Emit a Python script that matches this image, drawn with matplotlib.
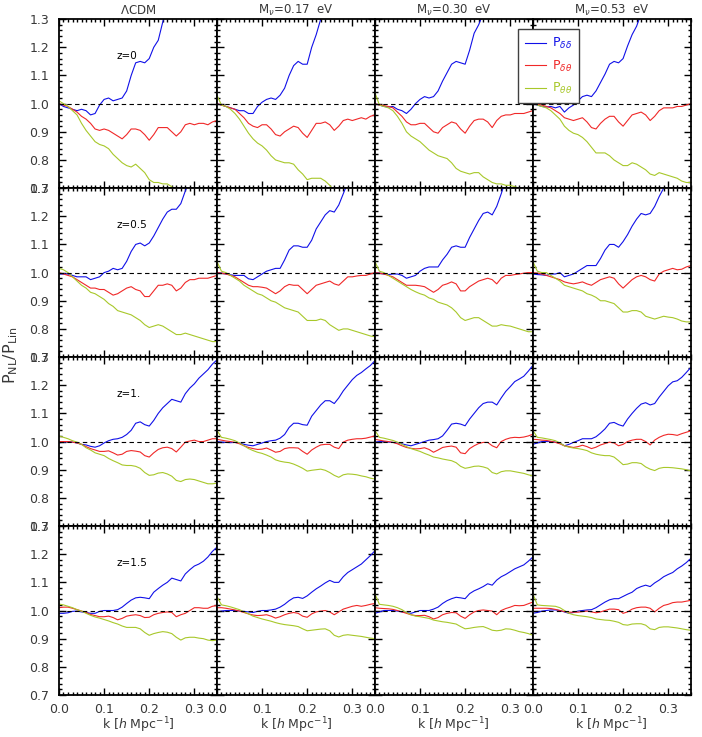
import numpy as np
import matplotlib
matplotlib.use('Agg')
import matplotlib.pyplot as plt
from matplotlib.ticker import MultipleLocator, FormatStrFormatter
from matplotlib.lines import Line2D

plt.rcParams['font.family'] = ['DejaVu Sans']

# k grid, step 0.01 h/Mpc
k = np.arange(36) * 0.01

columns = [r'$\Lambda$CDM', r'M$_\nu$=0.17  eV', r'M$_\nu$=0.30  eV', r'M$_\nu$=0.53  eV']
redshifts = ['z=0', 'z=0.5', 'z=1.', 'z=1.5']

# P_dd / P_lin, one list per column (LCDM, 0.17, 0.30, 0.53)
dd_z0 = [
    [1.00, 0.99, 0.985, 0.98, 0.975, 0.98, 0.975, 0.96, 0.965, 0.995, 1.015, 1.02, 1.01, 1.015, 1.02, 1.045, 1.10, 1.145, 1.15, 1.145, 1.16, 1.20, 1.225, 1.29, 1.35],
    [1.0, 0.995, 0.99, 0.985, 0.98, 0.975, 0.975, 0.965, 0.965, 0.99, 1.005, 1.015, 1.02, 1.015, 1.03, 1.055, 1.10, 1.135, 1.15, 1.14, 1.14, 1.20, 1.245, 1.30, 1.36],
    [1.0, 0.995, 0.99, 0.988, 0.99, 0.98, 0.975, 0.965, 0.98, 1.00, 1.015, 1.025, 1.02, 1.025, 1.045, 1.08, 1.11, 1.14, 1.15, 1.145, 1.14, 1.19, 1.25, 1.28, 1.32],
    [1.0, 0.995, 0.99, 0.988, 0.99, 0.985, 0.99, 0.97, 0.985, 0.995, 1.01, 1.025, 1.03, 1.025, 1.045, 1.075, 1.105, 1.14, 1.15, 1.145, 1.16, 1.205, 1.245, 1.275, 1.32],
]
dt_z0 = [
    [1.00, 0.995, 0.99, 0.98, 0.97, 0.955, 0.945, 0.93, 0.91, 0.905, 0.91, 0.905, 0.895, 0.885, 0.875, 0.89, 0.91, 0.91, 0.905, 0.89, 0.87, 0.89, 0.915, 0.915, 0.915, 0.90, 0.885, 0.90, 0.925, 0.93, 0.925, 0.93, 0.93, 0.925, 0.935, 0.94],
    [1.0, 0.995, 0.99, 0.985, 0.98, 0.965, 0.95, 0.93, 0.92, 0.915, 0.925, 0.925, 0.91, 0.89, 0.885, 0.90, 0.91, 0.92, 0.915, 0.895, 0.88, 0.905, 0.93, 0.93, 0.935, 0.925, 0.905, 0.92, 0.94, 0.945, 0.94, 0.945, 0.95, 0.945, 0.955, 0.96],
    [1.0, 0.995, 0.993, 0.99, 0.985, 0.97, 0.955, 0.935, 0.925, 0.925, 0.93, 0.93, 0.915, 0.90, 0.895, 0.915, 0.925, 0.935, 0.93, 0.91, 0.895, 0.92, 0.94, 0.945, 0.945, 0.935, 0.915, 0.94, 0.955, 0.96, 0.96, 0.965, 0.965, 0.965, 0.97, 0.975],
    [1.0, 0.998, 0.995, 0.99, 0.985, 0.975, 0.965, 0.95, 0.945, 0.94, 0.945, 0.95, 0.935, 0.915, 0.91, 0.93, 0.945, 0.955, 0.955, 0.935, 0.92, 0.94, 0.96, 0.965, 0.97, 0.96, 0.94, 0.955, 0.975, 0.985, 0.985, 0.985, 0.99, 0.99, 0.995, 1.0],
]
tt_z0 = [
    [1.01, 1.0, 0.99, 0.975, 0.96, 0.93, 0.905, 0.885, 0.865, 0.855, 0.85, 0.84, 0.82, 0.805, 0.79, 0.78, 0.775, 0.785, 0.77, 0.755, 0.73, 0.72, 0.72, 0.715, 0.715, 0.705, 0.69],
    [1.03, 0.995, 0.99, 0.98, 0.965, 0.945, 0.92, 0.895, 0.875, 0.86, 0.85, 0.835, 0.815, 0.80, 0.795, 0.79, 0.79, 0.785, 0.765, 0.75, 0.73, 0.735, 0.735, 0.735, 0.725, 0.71, 0.69],
    [1.04, 0.995, 0.99, 0.985, 0.975, 0.955, 0.93, 0.90, 0.885, 0.875, 0.865, 0.85, 0.835, 0.825, 0.815, 0.81, 0.805, 0.79, 0.77, 0.76, 0.755, 0.75, 0.755, 0.755, 0.74, 0.73, 0.72, 0.715, 0.715, 0.71, 0.71, 0.705, 0.70, 0.69],
    [1.04, 0.995, 0.99, 0.985, 0.975, 0.96, 0.945, 0.92, 0.905, 0.895, 0.89, 0.88, 0.865, 0.845, 0.825, 0.825, 0.825, 0.815, 0.80, 0.79, 0.78, 0.78, 0.79, 0.785, 0.775, 0.765, 0.75, 0.745, 0.755, 0.75, 0.745, 0.74, 0.735, 0.725, 0.72, 0.72],
]

dd_z05 = [
    [0.995, 0.995, 0.995, 0.99, 0.985, 0.985, 0.985, 0.975, 0.98, 0.985, 1.0, 1.005, 1.015, 1.01, 1.015, 1.04, 1.075, 1.10, 1.105, 1.095, 1.105, 1.13, 1.16, 1.19, 1.215, 1.225, 1.225, 1.245, 1.29, 1.33],
    [1.0, 0.998, 0.995, 0.992, 0.99, 0.99, 0.99, 0.978, 0.975, 0.985, 0.995, 1.005, 1.01, 1.015, 1.015, 1.045, 1.08, 1.095, 1.095, 1.09, 1.09, 1.115, 1.155, 1.18, 1.205, 1.22, 1.215, 1.24, 1.28, 1.32],
    [1.0, 0.998, 0.995, 0.993, 0.995, 0.995, 0.99, 0.98, 0.985, 0.99, 1.005, 1.015, 1.02, 1.02, 1.02, 1.045, 1.065, 1.09, 1.095, 1.09, 1.09, 1.125, 1.155, 1.185, 1.21, 1.215, 1.205, 1.235, 1.28, 1.33],
    [0.995, 0.993, 0.992, 0.99, 0.995, 0.995, 1.0, 0.985, 0.99, 0.995, 1.005, 1.015, 1.025, 1.025, 1.025, 1.05, 1.08, 1.10, 1.10, 1.09, 1.11, 1.135, 1.165, 1.19, 1.21, 1.205, 1.21, 1.235, 1.27, 1.30, 1.34],
]
dt_z05 = [
    [1.0, 0.995, 0.99, 0.985, 0.975, 0.965, 0.955, 0.945, 0.945, 0.94, 0.94, 0.93, 0.92, 0.925, 0.935, 0.945, 0.95, 0.94, 0.935, 0.915, 0.915, 0.935, 0.955, 0.955, 0.96, 0.955, 0.935, 0.945, 0.965, 0.975, 0.975, 0.98, 0.98, 0.98, 0.985, 0.99],
    [1.0, 0.998, 0.995, 0.99, 0.985, 0.975, 0.965, 0.955, 0.95, 0.95, 0.948, 0.945, 0.935, 0.925, 0.935, 0.95, 0.958, 0.955, 0.955, 0.94, 0.925, 0.94, 0.955, 0.96, 0.965, 0.97, 0.96, 0.955, 0.97, 0.985, 0.985, 0.988, 0.99, 0.99, 0.995, 1.0],
    [1.0, 0.998, 0.995, 0.99, 0.985, 0.975, 0.965, 0.955, 0.955, 0.955, 0.953, 0.95, 0.94, 0.93, 0.94, 0.955, 0.96, 0.967, 0.96, 0.935, 0.935, 0.95, 0.96, 0.97, 0.975, 0.98, 0.975, 0.96, 0.98, 0.99, 0.99, 0.993, 0.995, 0.998, 1.0, 1.0],
    [1.0, 0.998, 0.995, 0.99, 0.985, 0.98, 0.975, 0.967, 0.963, 0.96, 0.963, 0.967, 0.96, 0.955, 0.965, 0.975, 0.98, 0.985, 0.98, 0.96, 0.945, 0.96, 0.975, 0.985, 0.99, 0.985, 0.975, 0.97, 0.995, 1.005, 1.01, 1.015, 1.01, 1.012, 1.02, 1.025],
]
tt_z05 = [
    [1.015, 1.01, 1.0, 0.985, 0.97, 0.955, 0.945, 0.93, 0.925, 0.915, 0.905, 0.89, 0.88, 0.865, 0.86, 0.855, 0.85, 0.84, 0.83, 0.815, 0.805, 0.81, 0.815, 0.81, 0.80, 0.79, 0.78, 0.78, 0.785, 0.78, 0.775, 0.77, 0.765, 0.76, 0.755, 0.755],
    [1.04, 1.005, 1.0, 0.99, 0.98, 0.97, 0.955, 0.945, 0.935, 0.925, 0.92, 0.91, 0.90, 0.895, 0.885, 0.875, 0.87, 0.865, 0.86, 0.845, 0.83, 0.83, 0.83, 0.835, 0.83, 0.815, 0.805, 0.795, 0.80, 0.80, 0.795, 0.79, 0.785, 0.78, 0.775, 0.772],
    [1.04, 1.005, 1.0, 0.99, 0.98, 0.97, 0.96, 0.95, 0.94, 0.932, 0.925, 0.92, 0.91, 0.905, 0.895, 0.89, 0.885, 0.875, 0.86, 0.84, 0.83, 0.835, 0.84, 0.84, 0.83, 0.82, 0.81, 0.81, 0.815, 0.812, 0.81, 0.805, 0.80, 0.795, 0.79, 0.79],
    [1.04, 1.005, 1.0, 1.0, 0.99, 0.98, 0.97, 0.955, 0.95, 0.945, 0.94, 0.935, 0.925, 0.92, 0.912, 0.90, 0.90, 0.895, 0.89, 0.875, 0.86, 0.86, 0.865, 0.865, 0.86, 0.845, 0.84, 0.835, 0.84, 0.845, 0.842, 0.84, 0.835, 0.828, 0.825, 0.825],
]

dd_z1 = [
    [0.995, 0.998, 1.0, 0.998, 0.995, 0.99, 0.988, 0.983, 0.98, 0.985, 0.995, 1.003, 1.008, 1.01, 1.015, 1.025, 1.04, 1.065, 1.07, 1.06, 1.055, 1.075, 1.10, 1.12, 1.135, 1.15, 1.145, 1.14, 1.17, 1.19, 1.205, 1.225, 1.24, 1.255, 1.275, 1.29],
    [1.0, 0.998, 0.997, 0.996, 0.997, 0.995, 0.99, 0.987, 0.985, 0.99, 0.995, 1.0, 1.003, 1.005, 1.012, 1.025, 1.05, 1.065, 1.065, 1.06, 1.058, 1.09, 1.11, 1.13, 1.145, 1.145, 1.135, 1.155, 1.18, 1.20, 1.22, 1.235, 1.245, 1.258, 1.27, 1.287],
    [0.998, 1.0, 1.0, 0.998, 0.997, 0.995, 0.992, 0.988, 0.985, 0.99, 0.995, 1.0, 1.005, 1.007, 1.01, 1.02, 1.04, 1.062, 1.065, 1.062, 1.056, 1.08, 1.10, 1.12, 1.135, 1.14, 1.14, 1.13, 1.155, 1.178, 1.195, 1.213, 1.222, 1.232, 1.25, 1.27],
    [0.99, 0.995, 1.0, 1.0, 1.0, 0.998, 0.995, 0.985, 0.99, 0.997, 1.003, 1.01, 1.01, 1.01, 1.017, 1.03, 1.045, 1.065, 1.068, 1.06, 1.055, 1.08, 1.10, 1.118, 1.133, 1.138, 1.13, 1.135, 1.158, 1.178, 1.198, 1.212, 1.216, 1.228, 1.245, 1.263],
]
dt_z1 = [
    [1.0, 1.0, 1.0, 0.998, 0.995, 0.99, 0.982, 0.975, 0.97, 0.965, 0.965, 0.967, 0.96, 0.952, 0.955, 0.965, 0.968, 0.966, 0.963, 0.95, 0.945, 0.96, 0.972, 0.978, 0.98, 0.975, 0.963, 0.98, 0.998, 1.002, 1.005, 1.0, 1.0, 1.005, 1.01, 1.01],
    [1.008, 1.005, 1.002, 1.0, 0.997, 0.992, 0.985, 0.979, 0.975, 0.972, 0.973, 0.977, 0.97, 0.962, 0.965, 0.975, 0.978, 0.978, 0.977, 0.965, 0.955, 0.97, 0.98, 0.988, 0.99, 0.99, 0.98, 0.975, 0.998, 1.005, 1.008, 1.01, 1.01, 1.012, 1.016, 1.02],
    [1.008, 1.005, 1.002, 1.0, 0.997, 0.992, 0.985, 0.979, 0.976, 0.974, 0.975, 0.978, 0.972, 0.962, 0.97, 0.979, 0.982, 0.984, 0.98, 0.96, 0.957, 0.975, 0.985, 0.993, 0.997, 0.997, 0.985, 0.978, 1.0, 1.008, 1.013, 1.015, 1.014, 1.016, 1.02, 1.026],
    [1.008, 1.007, 1.005, 1.004, 1.001, 0.997, 0.992, 0.985, 0.982, 0.979, 0.982, 0.987, 0.982, 0.975, 0.98, 0.988, 0.993, 0.998, 0.995, 0.985, 0.99, 1.0, 1.005, 1.008, 1.008, 1.0, 0.988, 1.005, 1.015, 1.022, 1.026, 1.025, 1.022, 1.028, 1.033, 1.038],
]
tt_z1 = [
    [1.02, 1.015, 1.01, 1.003, 0.998, 0.99, 0.978, 0.97, 0.96, 0.955, 0.95, 0.94, 0.932, 0.925, 0.917, 0.915, 0.915, 0.912, 0.905, 0.89, 0.88, 0.882, 0.888, 0.89, 0.885, 0.877, 0.862, 0.858, 0.865, 0.867, 0.865, 0.86, 0.855, 0.85, 0.85, 0.852],
    [1.04, 1.015, 1.012, 1.008, 1.003, 0.995, 0.985, 0.975, 0.968, 0.962, 0.958, 0.952, 0.945, 0.935, 0.93, 0.927, 0.925, 0.92, 0.913, 0.905, 0.895, 0.898, 0.90, 0.902, 0.898, 0.89, 0.88, 0.873, 0.882, 0.885, 0.884, 0.882, 0.878, 0.875, 0.87, 0.867],
    [1.04, 1.015, 1.012, 1.008, 1.004, 0.998, 0.99, 0.982, 0.975, 0.97, 0.965, 0.958, 0.952, 0.945, 0.942, 0.938, 0.935, 0.932, 0.925, 0.912, 0.905, 0.908, 0.912, 0.913, 0.91, 0.905, 0.89, 0.885, 0.893, 0.896, 0.896, 0.893, 0.89, 0.887, 0.882, 0.878],
    [1.04, 1.015, 1.013, 1.01, 1.007, 1.003, 0.995, 0.985, 0.98, 0.977, 0.975, 0.972, 0.968, 0.96, 0.955, 0.952, 0.95, 0.95, 0.945, 0.932, 0.918, 0.92, 0.925, 0.925, 0.922, 0.91, 0.902, 0.897, 0.905, 0.908, 0.908, 0.907, 0.905, 0.903, 0.90, 0.896],
]

dd_z15 = [
    [0.99, 0.99, 0.992, 0.997, 0.998, 0.995, 0.993, 0.99, 0.99, 0.997, 1.0, 1.0, 1.0, 1.003, 1.012, 1.025, 1.037, 1.045, 1.047, 1.045, 1.042, 1.065, 1.078, 1.09, 1.10, 1.115, 1.11, 1.105, 1.13, 1.145, 1.158, 1.165, 1.175, 1.19, 1.21, 1.225],
    [0.995, 0.998, 1.0, 1.0, 1.0, 0.998, 0.997, 0.995, 0.993, 0.997, 1.0, 1.0, 1.002, 1.005, 1.012, 1.022, 1.035, 1.045, 1.047, 1.043, 1.052, 1.065, 1.077, 1.087, 1.098, 1.107, 1.10, 1.10, 1.12, 1.135, 1.145, 1.155, 1.165, 1.18, 1.195, 1.212],
    [0.99, 0.995, 1.0, 1.0, 1.0, 0.998, 0.995, 0.993, 0.99, 0.995, 1.0, 1.0, 1.0, 1.005, 1.012, 1.025, 1.035, 1.042, 1.047, 1.045, 1.042, 1.06, 1.07, 1.077, 1.085, 1.095, 1.09, 1.108, 1.12, 1.128, 1.138, 1.148, 1.155, 1.162, 1.175, 1.19],
    [0.99, 0.993, 0.998, 1.0, 1.002, 1.002, 1.0, 0.995, 0.99, 0.993, 0.998, 1.0, 1.002, 1.003, 1.01, 1.02, 1.03, 1.038, 1.042, 1.042, 1.05, 1.058, 1.065, 1.078, 1.085, 1.09, 1.085, 1.098, 1.108, 1.12, 1.128, 1.135, 1.148, 1.158, 1.17, 1.185],
]
dt_z15 = [
    [1.01, 1.012, 1.012, 1.008, 1.003, 0.998, 0.993, 0.986, 0.982, 0.978, 0.978, 0.98, 0.975, 0.967, 0.972, 0.98, 0.983, 0.985, 0.982, 0.975, 0.976, 0.985, 0.99, 0.993, 0.995, 0.993, 0.978, 0.985, 0.99, 1.0, 1.01, 1.01, 1.008, 1.008, 1.015, 1.018],
    [1.01, 1.01, 1.008, 1.005, 1.002, 0.998, 0.993, 0.988, 0.984, 0.982, 0.983, 0.985, 0.98, 0.973, 0.978, 0.985, 0.99, 0.993, 0.99, 0.98, 0.976, 0.988, 0.995, 0.998, 1.0, 0.995, 0.985, 0.995, 1.005, 1.01, 1.015, 1.018, 1.015, 1.018, 1.022, 1.025],
    [1.01, 1.008, 1.007, 1.006, 1.004, 1.0, 0.995, 0.99, 0.985, 0.982, 0.982, 0.983, 0.978, 0.97, 0.975, 0.985, 0.99, 0.993, 0.992, 0.98, 0.972, 0.985, 0.995, 1.0, 1.002, 1.0, 0.998, 0.985, 1.0, 1.007, 1.012, 1.018, 1.017, 1.018, 1.024, 1.03],
    [1.008, 1.008, 1.008, 1.008, 1.007, 1.004, 1.0, 0.996, 0.994, 0.994, 0.994, 0.996, 0.998, 0.995, 0.992, 0.995, 1.0, 1.005, 1.005, 1.003, 0.99, 0.995, 1.005, 1.01, 1.012, 1.012, 1.008, 0.995, 1.008, 1.018, 1.022, 1.028, 1.03, 1.03, 1.033, 1.036],
]
tt_z15 = [
    [1.023, 1.02, 1.015, 1.01, 1.003, 0.998, 0.99, 0.983, 0.977, 0.973, 0.968, 0.963, 0.957, 0.952, 0.945, 0.94, 0.94, 0.94, 0.935, 0.922, 0.912, 0.918, 0.922, 0.925, 0.923, 0.918, 0.905, 0.895, 0.903, 0.905, 0.905, 0.902, 0.90, 0.895, 0.893, 0.895],
    [1.05, 1.02, 1.017, 1.013, 1.008, 1.003, 0.995, 0.988, 0.98, 0.975, 0.97, 0.966, 0.962, 0.957, 0.953, 0.95, 0.948, 0.946, 0.943, 0.935, 0.928, 0.93, 0.932, 0.934, 0.935, 0.928, 0.912, 0.906, 0.912, 0.914, 0.912, 0.91, 0.908, 0.905, 0.902, 0.90],
    [1.06, 1.022, 1.02, 1.018, 1.015, 1.01, 1.003, 0.993, 0.985, 0.98, 0.978, 0.975, 0.972, 0.966, 0.963, 0.96, 0.958, 0.955, 0.952, 0.943, 0.935, 0.937, 0.94, 0.942, 0.943, 0.937, 0.93, 0.928, 0.93, 0.935, 0.934, 0.93, 0.925, 0.922, 0.918, 0.912],
    [1.06, 1.02, 1.018, 1.017, 1.016, 1.015, 1.01, 1.0, 0.99, 0.985, 0.982, 0.98, 0.978, 0.975, 0.97, 0.968, 0.966, 0.965, 0.962, 0.958, 0.95, 0.948, 0.952, 0.953, 0.953, 0.948, 0.935, 0.932, 0.94, 0.942, 0.942, 0.94, 0.938, 0.935, 0.932, 0.93],
]

dd_rows = [dd_z0, dd_z05, dd_z1, dd_z15]
dt_rows = [dt_z0, dt_z05, dt_z1, dt_z15]
tt_rows = [tt_z0, tt_z05, tt_z1, tt_z15]

c_dd = '#1010e8'
c_dt = '#f02828'
c_tt = '#a8c82a'
txt = '#383838'

fig, axes = plt.subplots(4, 4, figsize=(7.02, 7.37), dpi=100, sharex=True, sharey=True)
plt.subplots_adjust(left=0.084, right=0.984, bottom=0.057, top=0.974, wspace=0, hspace=0)

for i in range(4):
    for j in range(4):
        ax = axes[i, j]
        dd = dd_rows[i][j]
        dt = dt_rows[i][j]
        tt = tt_rows[i][j]
        ax.plot(k[:len(dd)], dd, color=c_dd, lw=0.8)
        ax.plot(k[:len(dt)], dt, color=c_dt, lw=0.8)
        ax.plot(k[:len(tt)], tt, color=c_tt, lw=0.8)
        ax.axhline(1.0, color='k', ls=(0, (4, 3)), lw=0.8)
        ax.set_xlim(0, 0.35)
        ax.set_ylim(0.7, 1.3)
        ax.xaxis.set_major_locator(MultipleLocator(0.1))
        ax.xaxis.set_minor_locator(MultipleLocator(0.01))
        ax.yaxis.set_major_locator(MultipleLocator(0.1))
        ax.yaxis.set_minor_locator(MultipleLocator(0.02))
        ax.xaxis.set_major_formatter(FormatStrFormatter('%.1f'))
        ax.yaxis.set_major_formatter(FormatStrFormatter('%.1f'))
        ax.tick_params(which='both', direction='in', top=True, right=True,
                       colors='k', labelcolor=txt, labelsize=9, width=1.0)
        ax.tick_params(which='major', length=5)
        ax.tick_params(which='minor', length=2.5)
        ax.tick_params(axis='x', pad=5.5)
        ax.tick_params(axis='y', pad=7)
        for s in ax.spines.values():
            s.set_linewidth(1.3)
        if i == 0:
            ax.set_title(columns[j], fontsize=8.5, color=txt, pad=4)
        if i == 3:
            ax.set_xlabel(r'k [$\mathit{h}$ Mpc$^{-1}$]', fontsize=9, color=txt, labelpad=0)
        if j == 0:
            ax.text(0.367, 0.78, redshifts[i], transform=ax.transAxes, fontsize=7.5,
                    color='k', va='center', ha='left')

# the 1.3 / 0.7 labels of neighbouring rows overlap in the original too
fig.text(0.015, 0.518, r'P$_{\rm NL}$/P$_{\rm Lin}$', rotation=90, fontsize=11.5,
         color=txt, ha='center', va='center')

handles = [Line2D([], [], color=c_dd, lw=0.8),
           Line2D([], [], color=c_dt, lw=0.8),
           Line2D([], [], color=c_tt, lw=0.8)]
labels = [r'P$_{\delta\delta}$', r'P$_{\delta\theta}$', r'P$_{\theta\theta}$']
leg = fig.legend(handles, labels, loc='upper left', bbox_to_anchor=(518 / 702, 1 - 29 / 737),
                 fontsize=9, frameon=True, fancybox=False, handlelength=1.7,
                 handletextpad=0.5, labelspacing=0.6, borderpad=0.55, borderaxespad=0)
leg.get_frame().set_edgecolor('#404040')
leg.get_frame().set_linewidth(1.0)
leg.get_frame().set_alpha(1.0)
for t, c in zip(leg.get_texts(), [c_dd, c_dt, c_tt]):
    t.set_color(c)

plt.savefig('out.png', dpi=100)
